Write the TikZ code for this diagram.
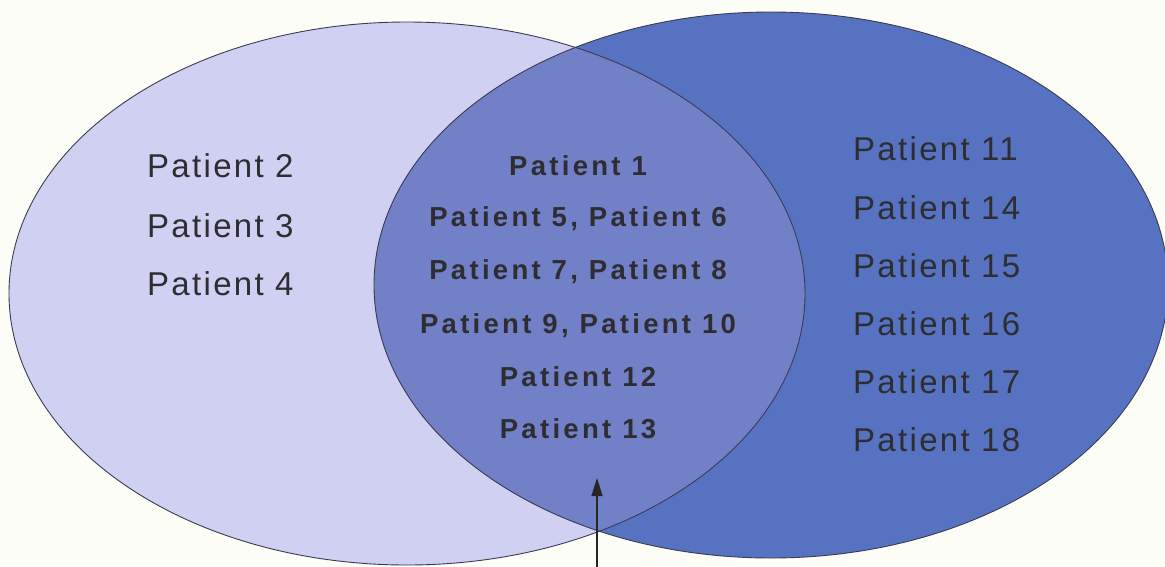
\documentclass[tikz,border=0pt]{standalone}
\usepackage{fontspec}
\setmainfont{Liberation Sans}
\newfontfamily\regfont[LetterSpace=7]{Liberation Sans}
\newfontfamily\boldfont[LetterSpace=12]{Liberation Sans Bold}
\usetikzlibrary{arrows.meta}
\definecolor{bgcol}{RGB}{253,253,248}
\definecolor{leftcol}{RGB}{208,208,242}
\definecolor{rightcol}{RGB}{86,114,192}
\definecolor{midcol}{RGB}{114,128,200}
\definecolor{edgecol}{RGB}{60,60,80}
\definecolor{txtcol}{RGB}{45,45,50}
\tikzset{
  setedge/.style={draw=edgecol, line width=0.9pt},
  regtext/.style={inner sep=0pt, anchor=base west, text=txtcol, font=\regfont\fontsize{33}{36}\selectfont},
  boldtext/.style={inner sep=0pt, anchor=base, text=txtcol, font=\boldfont\fontsize{27.5}{30}\selectfont},
  pointer/.style={draw=black!85, line width=1.4pt, -{Triangle[length=18pt,width=11pt]}}
}
\begin{document}
\begin{tikzpicture}[x=1pt,y=-1pt]
\useasboundingbox (0,0) rectangle (1165,566);
\fill[bgcol] (0,0) rectangle (1165,566);
% sets
\fill[leftcol] (407,293.5) ellipse [x radius=398pt, y radius=271.5pt];
\fill[rightcol] (771,285) ellipse [x radius=397pt, y radius=273pt];
\begin{scope}
  \clip (407,293.5) ellipse [x radius=398pt, y radius=271.5pt];
  \fill[midcol] (771,285) ellipse [x radius=397pt, y radius=273pt];
\end{scope}
\draw[setedge] (407,293.5) ellipse [x radius=398pt, y radius=271.5pt];
\draw[setedge] (771,285) ellipse [x radius=397pt, y radius=273pt];
% left only
\node[regtext] (p2) at (147,177) {Patient 2};
\node[regtext] (p3) at (147,237) {Patient 3};
\node[regtext] (p4) at (147,295) {Patient 4};
% right only
\node[regtext] (p11) at (853,160) {Patient 11};
\node[regtext] (p14) at (853,219) {Patient 14};
\node[regtext] (p15) at (853,277) {Patient 15};
\node[regtext] (p16) at (853,335) {Patient 16};
\node[regtext] (p17) at (853,393) {Patient 17};
\node[regtext] (p18) at (853,451) {Patient 18};
% both
\node[boldtext] (p1) at (578,175) {Patient 1};
\node[boldtext] (p56) at (578,226) {Patient 5, Patient 6};
\node[boldtext] (p78) at (578,279) {Patient 7, Patient 8};
\node[boldtext] (p910) at (578,333) {Patient 9, Patient 10};
\node[boldtext] (p12) at (578,386) {Patient 12};
\node[boldtext] (p13) at (578,438) {Patient 13};
% pointer
\coordinate (abot) at (597,570);
\coordinate (atip) at (597,478);
\draw[pointer] (abot) -- (atip);
\end{tikzpicture}
\end{document}
